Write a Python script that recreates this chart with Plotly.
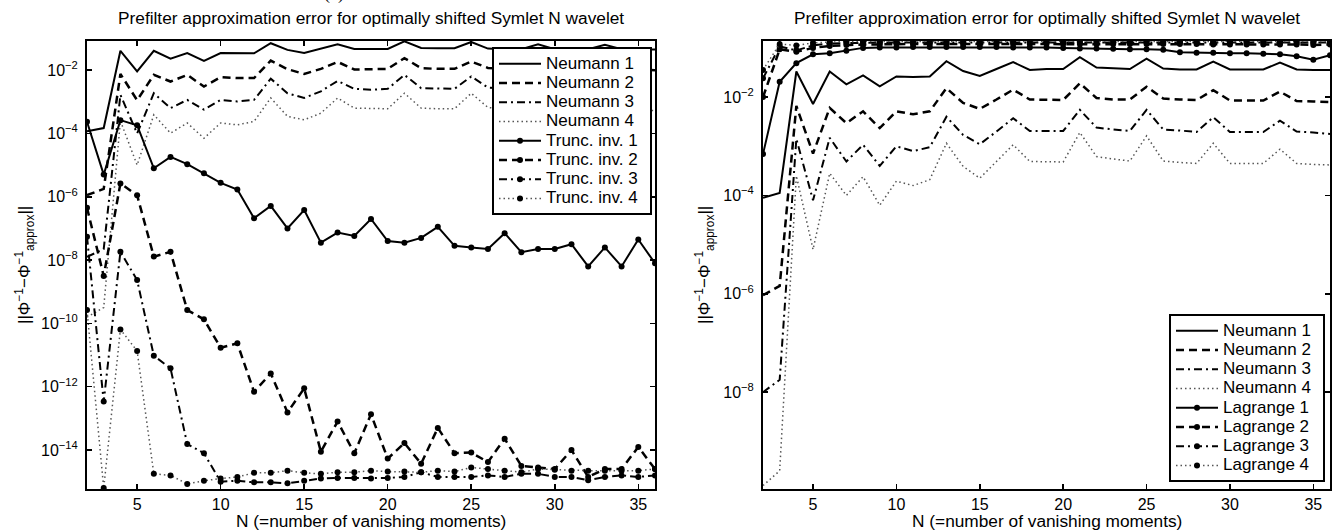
import plotly.graph_objects as go

# ---------------- data (log10 of the error) ----------------
N = list(range(2, 37))
xticks = [5, 10, 15, 20, 25, 30, 35]

left_neumann1 = [-3.93, -3.83, -1.39, -2.04, -1.39, -1.64, -1.46, -1.71, -1.46, -1.47, -1.47, -1.15, -1.36, -1.46, -1.33, -1.18, -1.33, -1.33, -1.33, -1.09, -1.30, -1.31, -1.31, -1.11, -1.32, -1.34, -1.34, -1.18, -1.34, -1.34, -1.34, -1.20, -1.34, -1.35, -1.35]
left_neumann2 = [-5.95, -5.75, -2.12, -2.95, -2.15, -2.36, -2.15, -2.52, -2.22, -2.25, -2.25, -1.70, -1.97, -2.12, -1.96, -1.74, -1.98, -1.96, -1.96, -1.62, -1.94, -1.96, -1.96, -1.73, -1.93, -1.96, -1.97, -1.76, -1.97, -1.97, -1.97, -1.79, -1.97, -1.98, -2.00]
left_neumann3 = [-7.90, -7.65, -2.78, -4.00, -2.73, -3.20, -2.94, -3.25, -2.94, -2.99, -2.94, -2.27, -2.73, -2.88, -2.67, -2.34, -2.59, -2.62, -2.59, -2.15, -2.57, -2.59, -2.59, -2.20, -2.55, -2.58, -2.61, -2.31, -2.61, -2.61, -2.61, -2.38, -2.60, -2.62, -2.65]
left_neumann4 = [-9.80, -9.50, -3.60, -5.00, -3.41, -3.99, -3.67, -4.15, -3.67, -3.73, -3.62, -2.88, -3.46, -3.57, -3.36, -2.88, -3.20, -3.22, -3.22, -2.73, -3.20, -3.22, -3.22, -2.73, -3.18, -3.23, -3.25, -2.84, -3.25, -3.25, -3.25, -2.96, -3.25, -3.27, -3.28]
left_trunc1 = [-3.63, -5.30, -3.58, -3.74, -5.10, -4.74, -4.97, -5.26, -5.56, -5.77, -6.68, -6.29, -7.00, -6.42, -7.45, -7.13, -7.24, -6.70, -7.40, -7.45, -7.30, -6.95, -7.55, -7.60, -7.65, -7.15, -7.75, -7.65, -7.65, -7.50, -8.20, -7.60, -8.20, -7.35, -8.10]
left_trunc2 = [-6.35, -8.50, -5.58, -5.95, -7.89, -7.74, -9.58, -9.87, -10.77, -10.63, -12.16, -11.58, -12.81, -12.05, -14.05, -13.10, -14.10, -12.87, -14.27, -13.78, -14.43, -13.30, -14.10, -14.08, -14.38, -13.64, -14.50, -14.55, -14.60, -14.00, -14.85, -14.60, -14.60, -13.90, -14.60]
left_trunc3 = [-7.26, -12.47, -7.74, -8.63, -11.02, -11.42, -13.81, -14.10, -15.00, -14.97, -15.02, -15.02, -15.05, -14.97, -14.90, -14.88, -14.88, -14.90, -14.88, -14.85, -14.70, -14.85, -14.85, -14.85, -14.80, -14.85, -14.75, -14.75, -14.85, -14.85, -14.95, -14.85, -14.80, -14.85, -14.80]
left_trunc4 = [-9.58, -15.20, -10.19, -10.87, -14.75, -14.80, -15.07, -14.97, -14.90, -14.85, -14.72, -14.72, -14.65, -14.72, -14.75, -14.70, -14.70, -14.65, -14.68, -14.68, -14.70, -14.65, -14.68, -14.55, -14.60, -14.65, -14.70, -14.60, -14.62, -14.65, -14.65, -14.65, -14.65, -14.65, -14.60]

right_neumann1 = [-4.05, -3.95, -1.48, -2.14, -1.48, -1.74, -1.56, -1.78, -1.58, -1.59, -1.58, -1.27, -1.47, -1.57, -1.43, -1.29, -1.45, -1.43, -1.43, -1.19, -1.40, -1.42, -1.43, -1.22, -1.42, -1.44, -1.44, -1.28, -1.44, -1.44, -1.44, -1.30, -1.44, -1.45, -1.45]
right_neumann2 = [-6.03, -5.84, -2.18, -3.15, -2.22, -2.53, -2.29, -2.63, -2.29, -2.35, -2.29, -1.82, -2.12, -2.24, -2.05, -1.85, -2.05, -2.06, -2.06, -1.72, -2.02, -2.05, -2.05, -1.79, -2.03, -2.05, -2.06, -1.86, -2.07, -2.07, -2.07, -1.89, -2.08, -2.09, -2.10]
right_neumann3 = [-8.00, -7.75, -2.85, -4.10, -2.83, -3.31, -2.97, -3.40, -3.00, -3.10, -3.02, -2.40, -2.77, -2.96, -2.70, -2.43, -2.69, -2.69, -2.69, -2.26, -2.62, -2.66, -2.69, -2.26, -2.66, -2.68, -2.71, -2.41, -2.71, -2.71, -2.71, -2.48, -2.70, -2.72, -2.75]
right_neumann4 = [-9.90, -9.60, -3.60, -5.10, -3.55, -4.00, -3.62, -4.20, -3.71, -3.80, -3.68, -2.94, -3.41, -3.65, -3.31, -2.97, -3.31, -3.32, -3.32, -2.72, -3.21, -3.26, -3.30, -2.79, -3.30, -3.33, -3.35, -2.94, -3.35, -3.35, -3.35, -3.06, -3.35, -3.37, -3.38]
right_lagrange1 = [-3.16, -1.69, -1.31, -1.13, -1.11, -1.06, -1.00, -0.99, -0.99, -0.98, -0.98, -0.98, -0.98, -0.98, -0.98, -0.99, -0.99, -0.99, -1.00, -1.01, -1.01, -1.02, -1.03, -1.03, -1.04, -1.09, -1.10, -1.10, -1.11, -1.11, -1.12, -1.13, -1.17, -1.24, -1.15]
right_lagrange2 = [-2.00, -1.03, -1.08, -1.00, -0.96, -0.94, -0.93, -0.93, -0.92, -0.92, -0.92, -0.92, -0.92, -0.92, -0.92, -0.92, -0.92, -0.92, -0.92, -0.92, -0.92, -0.92, -0.92, -0.92, -0.92, -0.92, -0.92, -0.93, -0.93, -0.93, -0.93, -0.93, -0.93, -0.94, -0.93]
right_lagrange3 = [-1.62, -0.97, -1.05, -0.95, -0.91, -0.90, -0.89, -0.89, -0.89, -0.89, -0.89, -0.89, -0.89, -0.89, -0.89, -0.89, -0.89, -0.89, -0.89, -0.89, -0.89, -0.89, -0.89, -0.89, -0.89, -0.89, -0.89, -0.89, -0.89, -0.89, -0.89, -0.89, -0.90, -0.90, -0.89]
right_lagrange4 = [-1.45, -0.92, -0.95, -0.90, -0.88, -0.87, -0.87, -0.87, -0.87, -0.87, -0.87, -0.87, -0.87, -0.87, -0.87, -0.87, -0.87, -0.87, -0.87, -0.87, -0.87, -0.87, -0.87, -0.87, -0.87, -0.87, -0.87, -0.87, -0.87, -0.87, -0.87, -0.87, -0.87, -0.88, -0.87]

left_names = ["Neumann 1", "Neumann 2", "Neumann 3", "Neumann 4",
              "Trunc. inv. 1", "Trunc. inv. 2", "Trunc. inv. 3", "Trunc. inv. 4"]
right_names = ["Neumann 1", "Neumann 2", "Neumann 3", "Neumann 4",
               "Lagrange 1", "Lagrange 2", "Lagrange 3", "Lagrange 4"]
ytick_left = [-14, -12, -10, -8, -6, -4, -2]
ytick_right = [-8, -6, -4, -2]

title_text = "Prefilter approximation error for optimally shifted Symlet N wavelet"
xlabel_text = "N (=number of vanishing moments)"
ylabel_text = "||Φ<sup>−1</sup>−Φ<sup>−1</sup><sub>approx</sub>||"

# ---------------- styling ----------------
W, H = 1334, 532
FONT = "Liberation Sans, Arial, Helvetica, sans-serif"
dash_styles = ["solid", "8px,5px", "8px,4px,2px,4px", "1.5px,3px"]
widths = [2, 2.5, 2, 1.5]
colors = ["black", "black", "black", "#555555"]

left_series = [left_neumann1, left_neumann2, left_neumann3, left_neumann4,
               left_trunc1, left_trunc2, left_trunc3, left_trunc4]
right_series = [right_neumann1, right_neumann2, right_neumann3, right_neumann4,
                right_lagrange1, right_lagrange2, right_lagrange3, right_lagrange4]

fig = go.Figure()

def add_series(series, names, xa, ya, leg):
    for i, (vals, name) in enumerate(zip(series, names)):
        k = i % 4
        with_markers = i >= 4
        fig.add_trace(go.Scatter(
            x=N, y=[10 ** v for v in vals],
            mode="lines+markers" if with_markers else "lines",
            name='<span style="font-size:17px">%s</span>&nbsp;&nbsp;' % name,
            line=dict(color=colors[k], width=widths[k], dash=dash_styles[k]),
            marker=dict(size=6, color="black", symbol="circle"),
            xaxis=xa, yaxis=ya, legend=leg,
        ))

add_series(left_series, left_names, "x", "y", "legend")
add_series(right_series, right_names, "x2", "y2", "legend2")

def sup_ticks(exps):
    return ["10<sup>−%d</sup>" % (-e) for e in exps]

common_x = dict(range=[2, 36], tickvals=xticks, ticks="inside", ticklen=5, tickwidth=1.5,
                tickcolor="black", showline=True, linewidth=2, linecolor="black",
                mirror="ticks", showgrid=False, zeroline=False,
                tickfont=dict(family=FONT, size=16, color="black"))
common_y = dict(type="log", ticks="inside", ticklen=5, tickwidth=1.5, tickcolor="black",
                showline=True, linewidth=2, linecolor="black", mirror="ticks",
                showgrid=False, zeroline=False, ticklabelstandoff=4,
                tickfont=dict(family=FONT, size=16, color="black"))

legend_common = dict(bgcolor="white", bordercolor="black", borderwidth=2,
                     font=dict(family=FONT, size=12.5, color="black"), itemwidth=42)

ydom = [1 - 489 / H, 1 - 41 / H]
fig.update_layout(
    width=W, height=H, margin=dict(l=0, r=0, t=0, b=0),
    paper_bgcolor="white", plot_bgcolor="white",
    font=dict(family=FONT, color="black"),
    xaxis=dict(domain=[87 / W, 655 / W], anchor="y", **common_x),
    yaxis=dict(domain=ydom, anchor="x", range=[-15.23, -1.08],
               tickvals=[10 ** e for e in ytick_left], ticktext=sup_ticks(ytick_left), **common_y),
    xaxis2=dict(domain=[763 / W, 1330 / W], anchor="y2", **common_x),
    yaxis2=dict(domain=ydom, anchor="x2", range=[-9.97, -0.86],
                tickvals=[10 ** e for e in ytick_right], ticktext=sup_ticks(ytick_right), **common_y),
    legend=dict(x=652 / W, xanchor="right", y=1 - 47 / H, yanchor="top", **legend_common),
    legend2=dict(x=1325 / W, xanchor="right", y=1 - 482 / H, yanchor="bottom", **legend_common),
    showlegend=True,
)

annos = []
for cx in [371, 1046.5]:
    annos.append(dict(text=title_text, x=cx / W, y=1 - 18 / H, xref="paper", yref="paper",
                      xanchor="center", yanchor="middle", showarrow=False,
                      font=dict(family=FONT, size=17.3, color="black")))
    annos.append(dict(text=xlabel_text, x=cx / W, y=1 - 521 / H, xref="paper", yref="paper",
                      xanchor="center", yanchor="middle", showarrow=False,
                      font=dict(family=FONT, size=17.3, color="black")))
annos.append(dict(text=ylabel_text, x=24 / W, y=1 - 265 / H, xref="paper", yref="paper",
                  xanchor="center", yanchor="middle", textangle=-90, showarrow=False,
                  font=dict(family=FONT, size=17, color="black")))
annos.append(dict(text=ylabel_text, x=704 / W, y=1 - 265 / H, xref="paper", yref="paper",
                  xanchor="center", yanchor="middle", textangle=-90, showarrow=False,
                  font=dict(family=FONT, size=17, color="black")))
annos.append(dict(text="(a)", x=334 / W, y=1 - 6 / H, xref="paper", yref="paper",
                  xanchor="center", yanchor="bottom", showarrow=False,
                  font=dict(family="Liberation Serif, Times New Roman, serif", size=18, color="black")))
fig.update_layout(annotations=annos)

fig.write_html("out.html",
               config={"displayModeBar": False, "staticPlot": True},
               post_script="document.body.style.margin='0px';document.body.style.overflow='hidden';")
